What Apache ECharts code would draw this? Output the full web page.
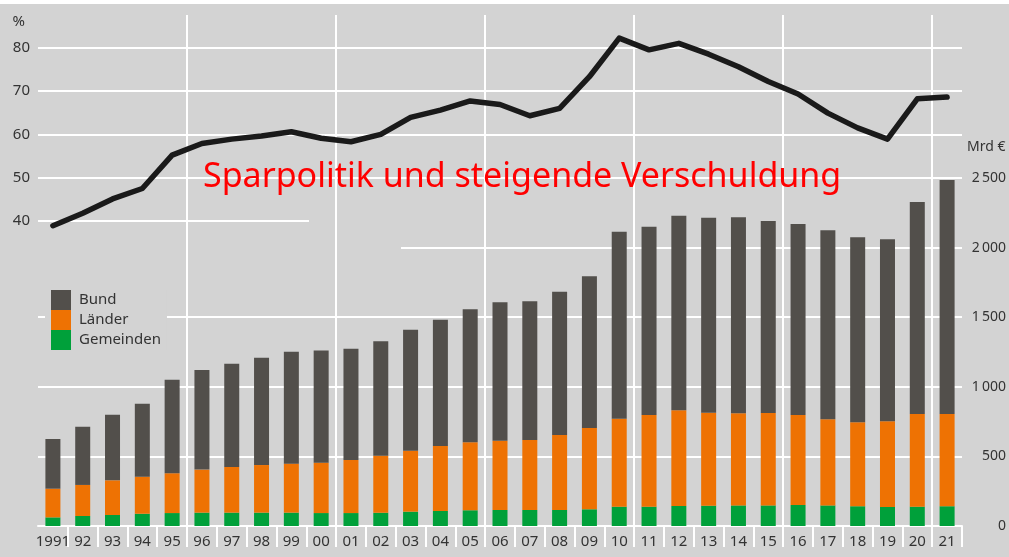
<!DOCTYPE html>
<html>
<head>
<meta charset="utf-8">
<script src="https://cdn.jsdelivr.net/npm/echarts@6/dist/echarts.min.js"></script>
<style>
  html, body { margin: 0; padding: 0; background: #ffffff; }
  #c { position: absolute; left: 0; top: 4px; width: 1009px; height: 553px; }
</style>
</head>
<body>
<div id="c"></div>
<script>
// ---- data ----
const years = ['1991','92','93','94','95','96','97','98','99','00','01','02','03','04','05','06','07','08','09','10','11','12','13','14','15','16','17','18','19','20','21'];
// Schulden in Mrd €
const gemeinden = [62,72,79,88,93,96,96,96,96,93,93,95,103,108,113,115,115,115,120,139,139,144,146,148,148,151,148,142,137,139,142];
const laender   = [206,223,249,266,286,309,328,342,352,362,381,410,438,467,488,498,503,539,584,632,658,688,668,662,664,646,618,603,615,666,663];
const bund      = [357,418,472,525,672,716,742,771,804,806,800,822,869,907,956,994,996,1029,1090,1342,1353,1397,1401,1408,1379,1373,1358,1329,1308,1523,1681];
// Schuldenquote in %
const quote = [38.9,41.8,45.1,47.5,55.2,57.9,58.9,59.6,60.6,59.1,58.3,60.0,63.9,65.6,67.7,66.9,64.3,66.0,73.3,82.2,79.5,81.0,78.5,75.6,72.2,69.3,64.9,61.5,58.9,68.2,68.6];
const pctTicks = [40, 50, 60, 70, 80];
const mrdTicks = [0, 500, 1000, 1500, 2000, 2500];
const titleText = 'Sparpolitik und steigende Verschuldung';

const FONT = 'Noto Sans';
const TXT = '#333333';
const BG = '#d3d3d3';
const WHITE = '#ffffff';

const chart = echarts.init(document.getElementById('c'), null, { renderer: 'canvas' });

function fmtThousands(v) {
  const s = String(v);
  return s.length > 3 ? s.slice(0, s.length - 3) + '\u2009' + s.slice(-3) : s;
}

const gridLine = { color: WHITE, width: 2, type: 'solid' };

chart.setOption({
  animation: false,
  backgroundColor: BG,
  title: {
    text: titleText,
    left: 203,
    top: 156,
    padding: 0,
    textStyle: { color: '#ff0000', fontSize: 34, fontWeight: 'normal', fontFamily: FONT }
  },
  legend: {
    data: ['Bund', 'Länder', 'Gemeinden'],
    orient: 'vertical',
    left: 45,
    top: 286,
    padding: [0, 6, 0, 6],
    itemGap: 0,
    itemWidth: 20,
    itemHeight: 20,
    icon: 'rect',
    backgroundColor: BG,
    selectedMode: false,
    textStyle: { fontSize: 15, color: TXT, fontFamily: FONT, padding: [0, 0, 0, 3] }
  },
  grid: [
    { left: 38, right: 47, top: 174, bottom: 31 },     // bars
    { left: 38, right: 47, top: 43.7, bottom: 336 },   // line
    { left: 38, right: 47, top: 11, bottom: 31 }       // vertical guides
  ],
  xAxis: [
    {
      type: 'category', gridIndex: 0, data: years, boundaryGap: true,
      axisLine: { show: true, lineStyle: { color: WHITE, width: 2 } },
      axisTick: { show: true, length: 21, interval: function (i) { return i > 0; }, lineStyle: { color: WHITE, width: 2 } },
      axisLabel: { interval: 0, fontSize: 15, color: TXT, fontFamily: FONT, margin: 8 },
      splitLine: { show: false }
    },
    {
      type: 'category', gridIndex: 1, data: years, boundaryGap: true, show: false
    },
    {
      type: 'value', gridIndex: 2, min: 0, max: years.length, interval: 5,
      axisLine: { show: false }, axisTick: { show: false }, axisLabel: { show: false },
      splitLine: { show: true, showMinLine: false, showMaxLine: false, lineStyle: gridLine }
    }
  ],
  yAxis: [
    {
      type: 'value', gridIndex: 0, position: 'right',
      min: mrdTicks[0], max: mrdTicks[mrdTicks.length - 1], interval: 500,
      name: 'Mrd €', nameLocation: 'end', nameGap: 31,
      nameTextStyle: { fontSize: 14, color: TXT, fontFamily: FONT, align: 'left', verticalAlign: 'middle', padding: [0, 0, 0, 5] },
      axisLine: { show: false }, axisTick: { show: false },
      axisLabel: { fontSize: 14, color: TXT, fontFamily: FONT, align: 'right', margin: 44, formatter: fmtThousands },
      splitLine: { show: false }
    },
    {
      type: 'value', gridIndex: 1, position: 'left',
      min: pctTicks[0], max: pctTicks[pctTicks.length - 1], interval: 10,
      name: '%', nameLocation: 'end', nameGap: 26,
      nameTextStyle: { fontSize: 15, color: TXT, fontFamily: FONT, align: 'right', verticalAlign: 'middle', padding: [0, 13, 0, 0] },
      axisLine: { show: false }, axisTick: { show: false },
      axisLabel: { fontSize: 15, color: TXT, fontFamily: FONT, margin: 8 },
      splitLine: { show: true, showMinLine: false, lineStyle: gridLine }
    },
    {
      type: 'value', gridIndex: 2, min: 0, max: 1, show: false
    }
  ],
  series: [
    {
      name: 'Gemeinden', type: 'bar', stack: 'debt', xAxisIndex: 0, yAxisIndex: 0,
      barWidth: 15, data: gemeinden, itemStyle: { color: '#00a03a' },
      emphasis: { disabled: true },
      markLine: {
        silent: true, symbol: 'none', z: 1, animation: false,
        label: { show: false },
        lineStyle: gridLine,
        emphasis: { disabled: true },
        data: [
          { yAxis: 500 }, { yAxis: 1000 }, { yAxis: 1500 },
          [ { xAxis: years[12], yAxis: 2000, x: 401 }, { xAxis: years[30], yAxis: 2000, x: 962 } ]
        ]
      }
    },
    {
      name: 'Länder', type: 'bar', stack: 'debt', xAxisIndex: 0, yAxisIndex: 0,
      barWidth: 15, data: laender, itemStyle: { color: '#ee7203' },
      emphasis: { disabled: true }
    },
    {
      name: 'Bund', type: 'bar', stack: 'debt', xAxisIndex: 0, yAxisIndex: 0,
      barWidth: 15, data: bund, itemStyle: { color: '#524f4b' },
      emphasis: { disabled: true }
    },
    {
      name: 'Schuldenquote', type: 'line', xAxisIndex: 1, yAxisIndex: 1,
      data: quote, clip: false, showSymbol: false, symbol: 'none', z: 4,
      lineStyle: { color: '#1a1a1a', width: 5.5, join: 'round', cap: 'round' },
      emphasis: { disabled: true },
      markLine: {
        silent: true, symbol: 'none', z: 1, animation: false,
        label: { show: false },
        lineStyle: gridLine,
        emphasis: { disabled: true },
        data: [
          [ { xAxis: years[0], yAxis: 40, x: 38 }, { xAxis: years[9], yAxis: 40, x: 309 } ]
        ]
      }
    }
  ]
});
</script>
</body>
</html>
